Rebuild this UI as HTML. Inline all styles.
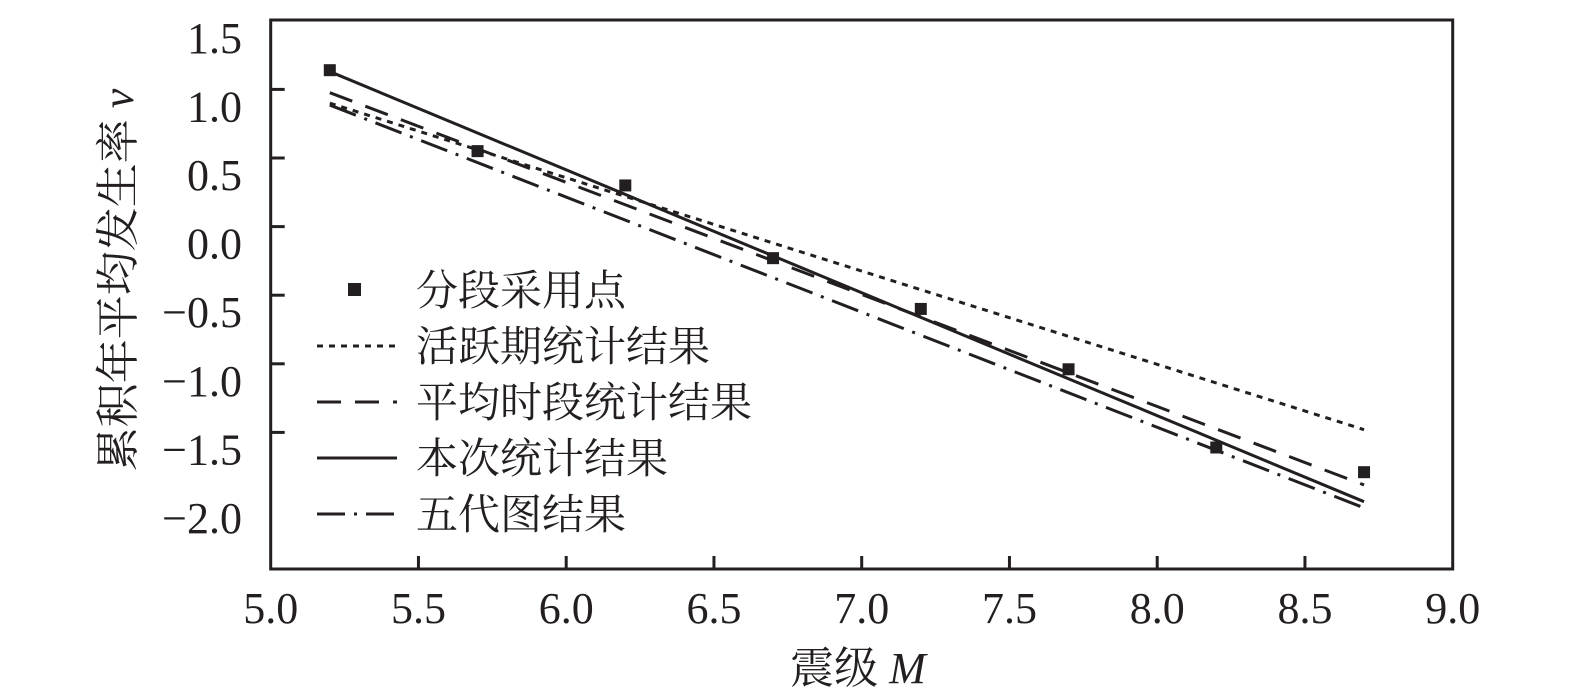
<!DOCTYPE html>
<html><head><meta charset="utf-8"><style>
html,body{margin:0;padding:0;background:#fff;}
svg{display:block;}
text{font-family:"Liberation Serif","Noto Serif CJK SC","Noto Sans CJK SC",serif;fill:#231f20;}
</style></head><body>
<svg id="chart" width="1575" height="699" viewBox="0 0 1575 699" xmlns="http://www.w3.org/2000/svg">
<g id="plot"></g>
<g id="legend"></g>
</svg>
<script>
const xTicks = [5.0, 5.5, 6.0, 6.5, 7.0, 7.5, 8.0, 8.5, 9.0];
const xTickLabels = ["5.0","5.5","6.0","6.5","7.0","7.5","8.0","8.5","9.0"];
const yTicks = [1.5, 1.0, 0.5, 0.0, -0.5, -1.0, -1.5, -2.0];
const yTickLabels = ["1.5","1.0","0.5","0.0","\u22120.5","\u22121.0","\u22121.5","\u22122.0"];
const pointM = [5.2, 5.7, 6.2, 6.7, 7.2, 7.7, 8.2, 8.7];
const pointV = [1.14, 0.55, 0.30, -0.23, -0.60, -1.04, -1.61, -1.79];
const lineM = [5.2, 8.7];
const activeV = [0.90, -1.48];
const averageV = [0.976, -1.883];
const currentV = [1.13, -2.005];
const fiveGenV = [0.886, -2.05];

const NS = "http://www.w3.org/2000/svg";
const X0 = 270.7, X1 = 1452.7, Y0 = 20, Y1 = 569;
function sx(m){ return X0 + (m - 5.0) / 4.0 * (X1 - X0); }
function sy(v){ return 226.6 - v * 137.2; }
function mk(tag, attrs, parent){
  const e = document.createElementNS(NS, tag);
  for (const k in attrs) e.setAttribute(k, attrs[k]);
  parent.appendChild(e); return e;
}
const plot = document.getElementById('plot');
const legend = document.getElementById('legend');

// frame
const frame = mk('rect', {x:X0, y:Y0, width:X1-X0, height:Y1-Y0, fill:'none', stroke:'#231f20', 'stroke-width':3}, plot);



// x ticks
xTicks.forEach((t,i)=>{
  const x = sx(t);
  if (i>0 && i<xTicks.length-1){
    const tk = mk('line',{x1:x,y1:Y1,x2:x,y2:Y1-13,stroke:'#231f20','stroke-width':3},plot);
    
    
  }
  const lb = mk('text',{x:x,y:623,'font-size':44,'text-anchor':'middle'},plot);
  lb.textContent = xTickLabels[i];
  
  
});
// y ticks
yTicks.forEach((t,i)=>{
  const y = sy(t);
  if (i>0 && i<yTicks.length-1){
    const tk = mk('line',{x1:X0,y1:y,x2:X0+14,y2:y,stroke:'#231f20','stroke-width':3},plot);
    
    
  }
  const ly = Math.min(Math.max(y + 17, 27), 555);
  const lb = mk('text',{x:242,y:ly+15,'font-size':44,'text-anchor':'end'},plot);
  lb.textContent = yTickLabels[i];
  
  
});

// axis titles
const xt = mk('text',{x:858,y:683,'font-size':44,'text-anchor':'middle'},plot);
xt.innerHTML = '震级 <tspan font-style="italic">M</tspan>';


const yt = mk('text',{x:0,y:0,'font-size':44,'text-anchor':'middle',transform:'translate(133,280) rotate(-90)'},plot);
yt.innerHTML = '累积年平均发生率 <tspan font-style="italic">v</tspan>';



// series lines
const styles = [
  {vals: activeV, dash:'6 6', name:'line-active-period'},
  {vals: averageV, dash:'24 14', name:'line-average-period'},
  {vals: currentV, dash:'', name:'line-current-result'},
  {vals: fiveGenV, dash:'28 9 3 9', name:'line-fifth-generation'}
];
styles.forEach(s=>{
  const a = {x1:sx(lineM[0]),y1:sy(s.vals[0]),x2:sx(lineM[1]),y2:sy(s.vals[1]),stroke:'#231f20','stroke-width':3};
  if (s.dash) a['stroke-dasharray'] = s.dash;
  const l = mk('line',a,plot);
  
  
});
// points
pointM.forEach((m,i)=>{
  const r = mk('rect',{x:sx(m)-6,y:sy(pointV[i])-6,width:12,height:12,fill:'#231f20'},plot);
  
  
});

// legend
const legItems = ["分段采用点","活跃期统计结果","平均时段统计结果","本次统计结果","五代图结果"];
const legDash = [null,'6 6','24 14','','28 9 3 9'];
legItems.forEach((txt,i)=>{
  const cy = 290 + i*56;
  if (i===0){
    const sq = mk('rect',{x:348,y:cy-7,width:13,height:13,fill:'#231f20'},legend);
    
    
  } else {
    const a = {x1:317,y1:cy,x2:397,y2:cy,stroke:'#231f20','stroke-width':3};
    if (legDash[i]) a['stroke-dasharray'] = legDash[i];
    const l = mk('line',a,legend);
    
    
  }
  const t = mk('text',{x:416,y:cy+15,'font-size':42},legend);
  t.textContent = txt;
  
  
});
</script>
</body></html>
